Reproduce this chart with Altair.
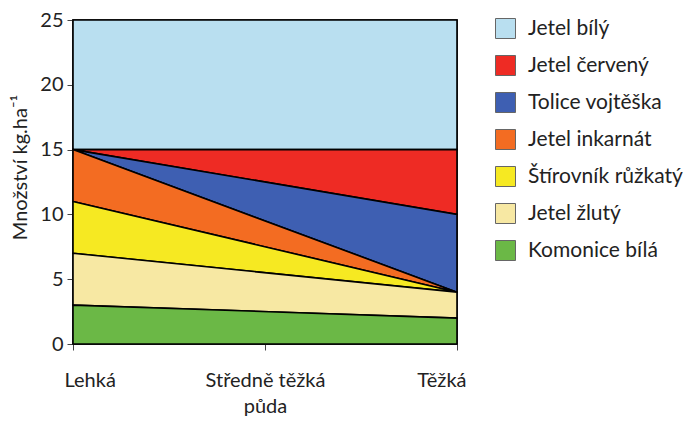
import json
import altair as alt
import pandas as pd

# x labels (middle one is two lines)
soil_labels = [["Lehká"], ["Středně těžká", "půda"], ["Těžká"]]
soil_pos = [0, 1, 2]

species = ["Jetel bílý", "Jetel červený", "Tolice vojtěška", "Jetel inkarnát",
           "Štírovník růžkatý", "Jetel žlutý", "Komonice bílá"]
colors = ["#b9dff0", "#ee2b24", "#3e5fb2", "#f36c22", "#f6e922", "#f7e8a3", "#6bb846"]
light_soil = [10, 0, 0, 4, 4, 4, 3]   # amount at "Lehká"
heavy_soil = [10, 5, 6, 0, 0, 2, 2]   # amount at "Těžká"

rows = []
n = len(species)
for i, s in enumerate(species):
    rank = n - 1 - i
    rows.append({"species": s, "x": soil_pos[0], "amount": light_soil[i], "rank": rank})
    rows.append({"species": s, "x": soil_pos[2], "amount": heavy_soil[i], "rank": rank})
df = pd.DataFrame(rows)

def lab(v):
    return json.dumps(v if len(v) > 1 else v[0], ensure_ascii=False)

label_expr = (f"datum.value == {soil_pos[0]} ? {lab(soil_labels[0])} : "
              f"datum.value == {soil_pos[1]} ? {lab(soil_labels[1])} : {lab(soil_labels[2])}")

FONT = "Lato"

chart = alt.Chart(df).mark_area(stroke="black", strokeWidth=1.6).encode(
    x=alt.X("x:Q", scale=alt.Scale(domain=[0, 2], nice=False, zero=False),
            axis=alt.Axis(values=soil_pos, labelExpr=label_expr, title=None,
                          grid=False, tickSize=6, labelPadding=20, labelFontSize=20,
                          labelLineHeight=26, labelColor="#222", domainColor="#222",
                          tickColor="#444", labelFont=FONT, labelFlushOffset=9)),
    y=alt.Y("amount:Q", stack="zero", scale=alt.Scale(domain=[0, 25], nice=False),
            axis=alt.Axis(values=[0, 5, 10, 15, 20, 25], title="Množství kg.ha⁻¹",
                          grid=False, tickSize=6, labelPadding=4, labelFontSize=20,
                          labelColor="#222", domainColor="#222", tickColor="#444",
                          titleFontSize=20, titleFontWeight="normal", titleColor="#222",
                          titleFont=FONT, labelFont=FONT,
                          titleX=-53, titleY=147, titleBaseline="middle")),
    color=alt.Color("species:N", scale=alt.Scale(domain=species, range=colors),
                    sort=species,
                    legend=alt.Legend(title=None, orient="none", legendX=422, legendY=-2,
                                      symbolType="square", symbolSize=400,
                                      symbolStrokeColor="#666", symbolStrokeWidth=1,
                                      labelFontSize=21, labelFont=FONT, labelColor="#222",
                                      labelOffset=12, rowPadding=12, padding=0,
                                      labelLimit=300)),
    order=alt.Order("rank:Q"),
).properties(
    width=384, height=324,
    autosize=alt.AutoSizeParams(type="none"),
    padding={"left": 73, "top": 20, "right": 236, "bottom": 79},
    background="white",
).configure_view(stroke="black", strokeWidth=1.5)

chart.save("out.html", embed_options={"renderer": "svg", "actions": False})
